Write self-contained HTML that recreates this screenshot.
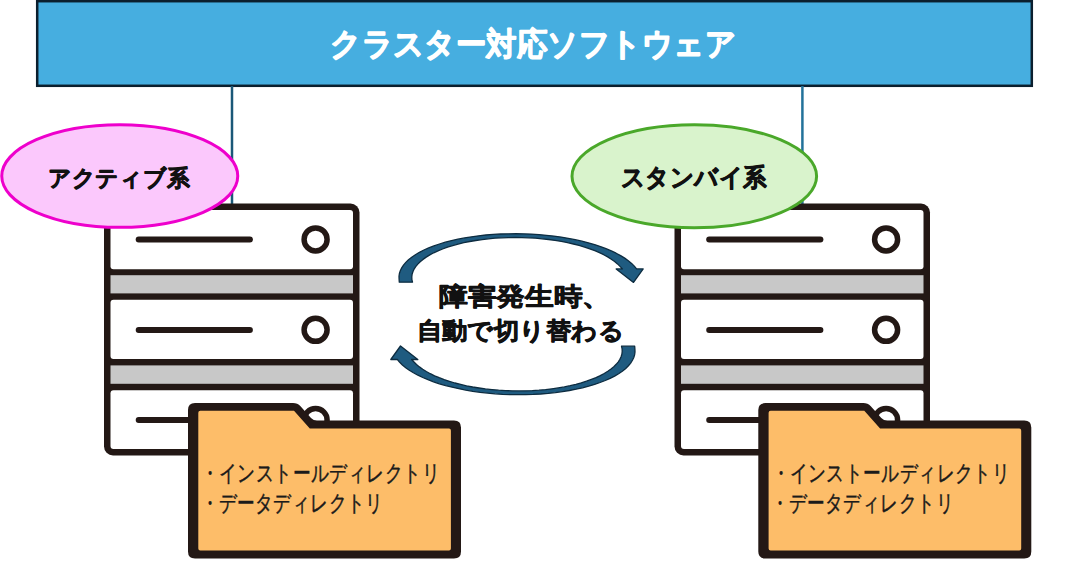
<!DOCTYPE html>
<html lang="ja"><head><meta charset="utf-8"><style>
html,body{margin:0;padding:0;background:#fff;width:1067px;height:584px;overflow:hidden}
svg{display:block;font-family:"Liberation Sans",sans-serif}
</style></head><body>
<svg width="1067" height="584" viewBox="0 0 1067 584">
<rect x="37.2" y="1.2" width="994.6" height="84.6" fill="#46aee0" stroke="#0b1f2e" stroke-width="2.5"/>
<text x="330.20" y="55.16" font-size="32.14" font-weight="bold" fill="#fff" stroke="#fff" stroke-width="1.2" stroke-linejoin="round" textLength="405.80" lengthAdjust="spacingAndGlyphs">クラスター対応ソフトウェア</text>
<line x1="232" y1="86" x2="232" y2="206" stroke="#1b5878" stroke-width="2.5"/>
<line x1="802.4" y1="86" x2="802.4" y2="206" stroke="#22729a" stroke-width="2.5"/>
<g transform="translate(0,0)">
<rect x="104" y="203.5" width="255.5" height="252" rx="9" fill="#231815"/>
<rect x="110.5" y="210" width="242.5" height="59.2" rx="3" fill="#fff"/>
<rect x="110.5" y="275.2" width="242.5" height="18.2" fill="#c8c8c8"/>
<rect x="110.5" y="299.7" width="242.5" height="59.3" rx="3" fill="#fff"/>
<rect x="110.5" y="365.4" width="242.5" height="18.4" fill="#c8c8c8"/>
<rect x="110.5" y="390.2" width="242.5" height="58.8" rx="3" fill="#fff"/>
<g stroke="#231815" stroke-width="6" stroke-linecap="round">
<line x1="138.7" y1="239.5" x2="249.9" y2="239.5"/>
<line x1="138.7" y1="330" x2="249.9" y2="330"/>
<line x1="138.7" y1="420" x2="249.9" y2="420"/>
</g>
<g stroke="#231815" stroke-width="5.5" fill="none">
<circle cx="315.6" cy="239.4" r="11.5"/>
<circle cx="315.6" cy="329.8" r="11.5"/>
<circle cx="315.6" cy="420" r="11.5"/>
</g>
</g>
<g transform="translate(570.5,0)">
<rect x="104" y="203.5" width="255.5" height="252" rx="9" fill="#231815"/>
<rect x="110.5" y="210" width="242.5" height="59.2" rx="3" fill="#fff"/>
<rect x="110.5" y="275.2" width="242.5" height="18.2" fill="#c8c8c8"/>
<rect x="110.5" y="299.7" width="242.5" height="59.3" rx="3" fill="#fff"/>
<rect x="110.5" y="365.4" width="242.5" height="18.4" fill="#c8c8c8"/>
<rect x="110.5" y="390.2" width="242.5" height="58.8" rx="3" fill="#fff"/>
<g stroke="#231815" stroke-width="6" stroke-linecap="round">
<line x1="138.7" y1="239.5" x2="249.9" y2="239.5"/>
<line x1="138.7" y1="330" x2="249.9" y2="330"/>
<line x1="138.7" y1="420" x2="249.9" y2="420"/>
</g>
<g stroke="#231815" stroke-width="5.5" fill="none">
<circle cx="315.6" cy="239.4" r="11.5"/>
<circle cx="315.6" cy="329.8" r="11.5"/>
<circle cx="315.6" cy="420" r="11.5"/>
</g>
</g>
<ellipse cx="119.75" cy="176" rx="118" ry="51.3" fill="#fbc8fc" stroke="#ee00cc" stroke-width="3"/>
<ellipse cx="694.3" cy="176.3" rx="122.3" ry="51.5" fill="#d9f3cc" stroke="#4aa82a" stroke-width="3"/>
<text x="47.80" y="185.60" font-size="23.26" font-weight="bold" fill="#111" stroke="#111" stroke-width="0.8" stroke-linejoin="round" textLength="141.80" lengthAdjust="spacingAndGlyphs">アクティブ系</text>
<text x="621.00" y="186.44" font-size="25.17" font-weight="bold" fill="#111" stroke="#111" stroke-width="0.8" stroke-linejoin="round" textLength="146.00" lengthAdjust="spacingAndGlyphs">スタンバイ系</text>
<g transform="translate(0,0)">
<path d="M195,403.1 H293 Q297.5,403.1 300.5,406.3 L311,418 Q313.5,420.5 317,420.5 H454 Q461,420.5 461,427.5 V551.5 Q461,558.5 454,558.5 H195 Q188,558.5 188,551.5 V410.1 Q188,403.1 195,403.1 Z" fill="#231815"/>
<path d="M200.3,410.8 H294 L309.8,428.5 H449 Q450.9,428.5 450.9,430.5 V548.5 Q450.9,550.5 449,550.5 H200.3 Q198.3,550.5 198.3,548.5 V412.8 Q198.3,410.8 200.3,410.8 Z" fill="#fdbd69"/>
</g>
<text x="200.96" y="480.80" font-size="23.13" font-weight="normal" fill="#1a1a1a" stroke="#1a1a1a" stroke-width="0.4" stroke-linejoin="round" textLength="239.40" lengthAdjust="spacingAndGlyphs">・インストールディレクトリ</text>
<text x="201.20" y="510.56" font-size="22.99" font-weight="normal" fill="#1a1a1a" stroke="#1a1a1a" stroke-width="0.4" stroke-linejoin="round" textLength="182.68" lengthAdjust="spacingAndGlyphs">・データディレクトリ</text>
<g transform="translate(570.3,0)">
<path d="M195,403.1 H293 Q297.5,403.1 300.5,406.3 L311,418 Q313.5,420.5 317,420.5 H454 Q461,420.5 461,427.5 V551.5 Q461,558.5 454,558.5 H195 Q188,558.5 188,551.5 V410.1 Q188,403.1 195,403.1 Z" fill="#231815"/>
<path d="M200.3,410.8 H294 L309.8,428.5 H449 Q450.9,428.5 450.9,430.5 V548.5 Q450.9,550.5 449,550.5 H200.3 Q198.3,550.5 198.3,548.5 V412.8 Q198.3,410.8 200.3,410.8 Z" fill="#fdbd69"/>
</g>
<text x="771.82" y="480.80" font-size="23.13" font-weight="normal" fill="#1a1a1a" stroke="#1a1a1a" stroke-width="0.4" stroke-linejoin="round" textLength="238.60" lengthAdjust="spacingAndGlyphs">・インストールディレクトリ</text>
<text x="771.26" y="510.56" font-size="22.99" font-weight="normal" fill="#1a1a1a" stroke="#1a1a1a" stroke-width="0.4" stroke-linejoin="round" textLength="182.68" lengthAdjust="spacingAndGlyphs">・データディレクトリ</text>
<g fill="#1f5b80" stroke="#0d2c40" stroke-width="1.3" stroke-linejoin="round">
<path d="M399.3,282.2 L399.1,279.3 L399.0,276.4 L399.4,273.5 L400.3,270.7 L401.7,267.9 L403.5,265.1 L405.8,262.4 L408.5,259.7 L411.7,257.2 L415.4,254.7 L419.4,252.3 L423.9,250.0 L428.7,247.9 L433.9,245.9 L439.4,244.0 L445.3,242.2 L451.5,240.6 L457.9,239.2 L464.6,237.9 L471.5,236.8 L478.6,235.8 L485.9,235.0 L493.3,234.4 L500.8,234.0 L508.4,233.8 L516.1,233.7 L523.7,233.8 L531.4,234.1 L539.0,234.6 L546.5,235.3 L553.9,236.1 L561.2,237.1 L568.3,238.3 L575.2,239.7 L581.9,241.2 L588.4,242.8 L594.6,244.6 L600.5,246.6 L606.0,248.7 L611.3,250.9 L616.1,253.2 L620.6,255.6 L624.7,258.1 L628.3,260.7 L631.6,263.4 L634.3,266.1 L636.6,268.9 L643.2,268.9 L633.5,282.4 L616.2,268.9 L622.4,268.9 L620.0,266.4 L617.5,263.9 L614.6,261.5 L611.3,259.2 L607.7,256.9 L603.7,254.7 L599.4,252.6 L594.8,250.7 L589.8,248.8 L584.6,247.1 L579.1,245.4 L573.4,244.0 L567.5,242.6 L561.3,241.4 L555.0,240.4 L548.6,239.5 L542.0,238.8 L535.4,238.2 L528.7,237.8 L521.9,237.6 L515.1,237.5 L508.4,237.6 L501.7,237.8 L495.0,238.2 L488.5,238.8 L482.1,239.6 L475.8,240.5 L469.7,241.5 L463.8,242.7 L458.1,244.1 L452.7,245.6 L447.5,247.2 L442.6,249.0 L438.0,250.8 L433.7,252.8 L429.8,254.9 L426.2,257.1 L423.0,259.4 L420.2,261.7 L417.8,264.1 L415.7,266.6 L414.1,269.1 L412.9,271.7 L412.1,274.3 L411.8,276.9 L411.9,279.6 L412.5,282.2 Z"/>
<path d="M399.3,282.2 L399.1,279.3 L399.0,276.4 L399.4,273.5 L400.3,270.7 L401.7,267.9 L403.5,265.1 L405.8,262.4 L408.5,259.7 L411.7,257.2 L415.4,254.7 L419.4,252.3 L423.9,250.0 L428.7,247.9 L433.9,245.9 L439.4,244.0 L445.3,242.2 L451.5,240.6 L457.9,239.2 L464.6,237.9 L471.5,236.8 L478.6,235.8 L485.9,235.0 L493.3,234.4 L500.8,234.0 L508.4,233.8 L516.1,233.7 L523.7,233.8 L531.4,234.1 L539.0,234.6 L546.5,235.3 L553.9,236.1 L561.2,237.1 L568.3,238.3 L575.2,239.7 L581.9,241.2 L588.4,242.8 L594.6,244.6 L600.5,246.6 L606.0,248.7 L611.3,250.9 L616.1,253.2 L620.6,255.6 L624.7,258.1 L628.3,260.7 L631.6,263.4 L634.3,266.1 L636.6,268.9 L643.2,268.9 L633.5,282.4 L616.2,268.9 L622.4,268.9 L620.0,266.4 L617.5,263.9 L614.6,261.5 L611.3,259.2 L607.7,256.9 L603.7,254.7 L599.4,252.6 L594.8,250.7 L589.8,248.8 L584.6,247.1 L579.1,245.4 L573.4,244.0 L567.5,242.6 L561.3,241.4 L555.0,240.4 L548.6,239.5 L542.0,238.8 L535.4,238.2 L528.7,237.8 L521.9,237.6 L515.1,237.5 L508.4,237.6 L501.7,237.8 L495.0,238.2 L488.5,238.8 L482.1,239.6 L475.8,240.5 L469.7,241.5 L463.8,242.7 L458.1,244.1 L452.7,245.6 L447.5,247.2 L442.6,249.0 L438.0,250.8 L433.7,252.8 L429.8,254.9 L426.2,257.1 L423.0,259.4 L420.2,261.7 L417.8,264.1 L415.7,266.6 L414.1,269.1 L412.9,271.7 L412.1,274.3 L411.8,276.9 L411.9,279.6 L412.5,282.2 Z" transform="rotate(180 517 314.2)"/>
</g>
<text x="438.92" y="305.16" font-size="25.39" font-weight="bold" fill="#111" stroke="#111" stroke-width="0.8" stroke-linejoin="round" textLength="172.24" lengthAdjust="spacingAndGlyphs">障害発生時、</text>
<text x="416.60" y="339.40" font-size="23.55" font-weight="bold" fill="#111" stroke="#111" stroke-width="0.8" stroke-linejoin="round" textLength="207.40" lengthAdjust="spacingAndGlyphs">自動で切り替わる</text>
</svg>
</body></html>
